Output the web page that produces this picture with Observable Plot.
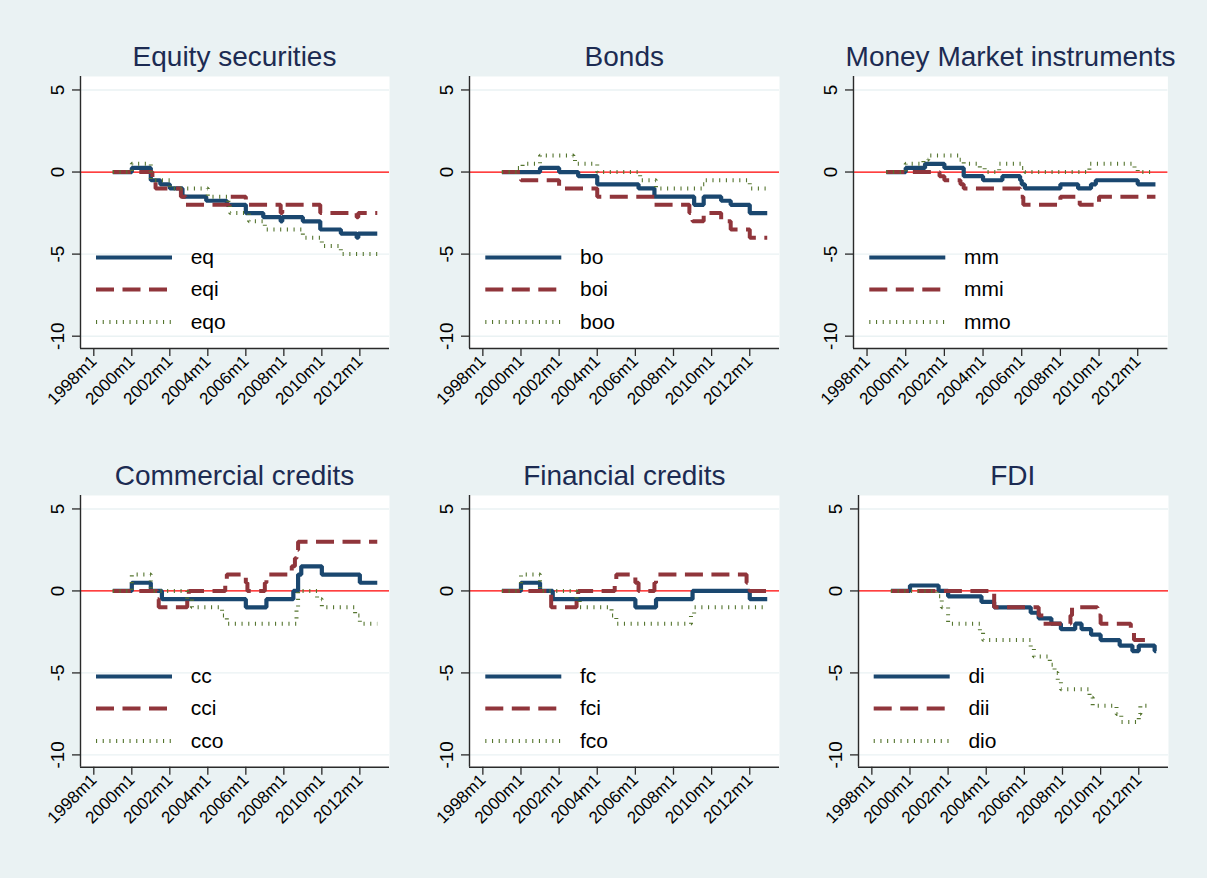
<!DOCTYPE html>
<html>
<head>
<meta charset="utf-8">
<script src="https://cdn.jsdelivr.net/npm/d3@7"></script>
<script src="https://cdn.jsdelivr.net/npm/@observablehq/plot@0.6"></script>
<style>
  html, body { margin: 0; padding: 0; background: #eaf2f3; }
  #chart { position: relative; width: 1207px; height: 878px; background: #eaf2f3; overflow: hidden;
           font-family: "Liberation Sans", Arial, Helvetica, sans-serif; }
  .panel { position: absolute; }
  .title { position: absolute; font-size: 28px; line-height: 28px; color: #1c2b52; white-space: nowrap;
           transform: translateX(-50%); }
  #legend { position: absolute; left: 0; top: 0; pointer-events: none; }
</style>
</head>
<body>
<div id="chart"></div>
<script>
// ---------------- data ----------------
const X_TICKS = [1998, 2000, 2002, 2004, 2006, 2008, 2010, 2012];
const Y_TICKS = [5, 0, -5, -10];
const TITLES = ["Equity securities", "Bonds", "Money Market instruments",
                "Commercial credits", "Financial credits", "FDI"];
const SERIES_NAMES = [["eq", "eqi", "eqo"], ["bo", "boi", "boo"], ["mm", "mmi", "mmo"],
                      ["cc", "cci", "cco"], ["fc", "fci", "fco"], ["di", "dii", "dio"]];

// change points [month, value]; each series is a step function of monthly values
const eq  = [["1999m1",0],["2000m1",0.25],["2001m1",-0.5],["2001m7",-0.75],["2002m1",-1],["2002m9",-1.5],
             ["2003m12",-1.75],["2005m1",-2],["2006m1",-2.5],["2006m12",-2.75],["2007m11",-3],["2007m12",-2.75],
             ["2009m1",-3],["2009m12",-3.5],["2011m1",-3.75],["2011m11",-4],["2011m12",-3.75],["2012m12",-3.75]];
const eqi = [["1999m1",0],["2001m2",-0.5],["2001m4",-1],["2002m8",-1.5],["2002m11",-2],["2005m3",-1.5],
             ["2006m1",-2],["2007m11",-2.5],["2007m12",-2],["2009m12",-2.5],["2011m11",-2.75],["2011m12",-2.5],
             ["2012m12",-2.5]];
const eqo = [["1999m1",0],["2000m1",0.5],["2001m1",-0.5],["2002m1",-1],["2004m1",-1.5],["2005m2",-2],
             ["2005m3",-2.5],["2006m3",-3],["2007m1",-3.5],["2009m1",-4],["2010m1",-4.5],["2011m1",-5],
             ["2012m12",-5]];

const bo  = [["1999m1",0],["2001m1",0.25],["2002m1",0],["2003m1",-0.25],["2004m1",-0.75],["2006m3",-1],
             ["2007m1",-1.5],["2009m2",-2],["2009m8",-1.5],["2010m7",-1.75],["2011m1",-2],["2012m1",-2.5],
             ["2012m12",-2.5]];
const boi = [["1999m1",0],["2000m1",-0.5],["2002m1",-1],["2004m1",-1.5],["2007m1",-2],["2008m11",-2.5],
             ["2009m1",-3],["2009m8",-2.5],["2010m7",-3],["2011m1",-3.5],["2012m1",-4],["2012m12",-4]];
const boo = [["1999m1",0],["1999m11",0.25],["2000m2",0.5],["2001m1",1],["2002m10",0.75],["2002m11",0.5],
             ["2004m1",0],["2006m4",-0.5],["2007m2",-1],["2009m7",-0.75],["2009m9",-0.5],["2012m1",-1],
             ["2012m12",-1]];

const mm  = [["1999m1",0],["2000m1",0.25],["2001m1",0.5],["2002m1",0.25],["2003m1",-0.25],["2004m1",-0.5],
             ["2005m1",-0.25],["2005m12",-0.5],["2006m1",-0.75],["2006m3",-1],["2008m1",-0.75],["2008m12",-1],
             ["2009m8",-0.75],["2009m11",-0.5],["2012m1",-0.75],["2012m12",-0.75]];
const mmi = [["1999m1",0],["2001m10",-0.25],["2002m1",-0.5],["2002m11",-0.75],["2003m1",-1],["2005m12",-1.5],
             ["2006m2",-2],["2008m1",-1.5],["2009m1",-2],["2010m1",-1.5],["2012m12",-1.5]];
const mmo = [["1999m1",0],["2000m1",0.5],["2000m12",0.75],["2001m3",1],["2002m10",0.75],["2003m1",0.5],
             ["2003m11",0.25],["2004m2",0],["2004m11",0.5],["2006m1",0.25],["2006m3",0],["2009m7",0.5],
             ["2011m11",0.25],["2012m1",0],["2012m12",0]];

const cc  = [["1999m1",0],["2000m1",0.5],["2001m1",0],["2001m8",-0.5],["2006m1",-1],["2007m2",-0.5],
             ["2008m7",0],["2008m10",1],["2008m12",1.5],["2010m1",1],["2012m1",0.5],["2012m12",0.5]];
const cci = [["1999m1",0],["2001m5",-0.5],["2001m6",-1],["2002m12",-0.5],["2003m1",0],["2004m12",0.5],
             ["2005m1",1],["2006m1",0.5],["2006m2",0],["2007m1",0.5],["2007m2",1],["2008m6",1.5],["2008m8",2],
             ["2008m9",2.5],["2008m10",3],["2012m12",3]];
const cco = [["1999m1",0],["2000m1",1],["2001m1",0],["2002m12",-0.5],["2003m3",-1],["2004m10",-1.5],
             ["2005m1",-2],["2008m9",-1],["2008m10",0],["2009m10",-0.5],["2010m1",-1],["2011m10",-1.5],
             ["2012m1",-2],["2012m12",-2]];

const fc  = [["1999m1",0],["2000m1",0.5],["2001m1",0],["2001m9",-0.5],["2006m1",-1],["2007m2",-0.5],
             ["2009m1",0],["2012m1",-0.5],["2012m12",-0.5]];
const fci = [["1999m1",0],["2001m8",-1],["2002m12",-0.5],["2003m1",0],["2004m12",0.5],["2005m1",1],
             ["2006m1",0.5],["2006m3",0],["2007m1",0.5],["2007m2",1],["2011m11",0.5],["2012m1",0],["2012m12",0]];
const fco = [["1999m1",0],["2000m1",1],["2001m1",0],["2002m12",-0.5],["2003m2",-1],["2004m10",-1.5],
             ["2005m1",-2],["2008m12",-1.5],["2009m2",-1],["2012m12",-1]];

const di  = [["1999m1",0],["2000m1",0.33],["2001m7",0],["2002m1",-0.33],["2003m10",-0.67],["2004m6",-1],
             ["2006m5",-1.33],["2006m10",-1.67],["2007m6",-2],["2007m12",-2.33],["2008m9",-2],["2009m1",-2.33],
             ["2009m7",-2.67],["2010m1",-3],["2011m1",-3.33],["2011m9",-3.67],["2012m1",-3.33],["2012m11",-3.67],
             ["2012m12",-3.67]];
const dii = [["1999m1",0],["2004m6",-1],["2006m10",-1.5],["2007m1",-2],["2008m6",-1.5],["2008m7",-1],
             ["2009m11",-1.5],["2010m1",-2],["2011m8",-2.33],["2011m9",-2.5],["2011m10",-3],["2012m8",-3]];
const dio = [["1999m1",0],["2001m6",-0.33],["2001m9",-1],["2002m1",-2],["2003m9",-2.5],["2003m11",-3],
             ["2006m5",-3.5],["2006m7",-4],["2007m5",-4.5],["2007m8",-5],["2007m10",-5.5],["2007m12",-6],
             ["2009m6",-6.5],["2009m8",-7],["2010m11",-7.5],["2011m2",-8],["2012m1",-7.5],["2012m2",-7],
             ["2012m8",-7]];

const PANEL_DATA = [[eq, eqi, eqo], [bo, boi, boo], [mm, mmi, mmo],
                    [cc, cci, cco], [fc, fci, fco], [di, dii, dio]];

// ---------------- layout & style ----------------
const X_DOMAIN = [1997.3, 2013.56];
const Y_DOMAIN = [-10.75, 5.82];
const LAYOUT = [
  {x0: 80,    x1: 389,    y0: 76,  y1: 348},
  {x0: 469.3, x1: 779.3,  y0: 76,  y1: 348},
  {x0: 853.3, x1: 1167.7, y0: 76,  y1: 348},
  {x0: 80,    x1: 389,    y0: 495, y1: 766.7},
  {x0: 469.3, x1: 779.3,  y0: 495, y1: 766.7},
  {x0: 857.7, x1: 1167.7, y0: 495, y1: 766.7}
];
const STYLES = [
  {stroke: "#1a476f", strokeWidth: 4.2, dash: null},
  {stroke: "#90353b", strokeWidth: 4.0, dash: "18,8.5"},
  {stroke: "#55752f", strokeWidth: 4.0, dash: "1.1,5.6"}
];
const FONT = '"Liberation Sans", Arial, Helvetica, sans-serif';
const AXIS_COLOR = "#2a2a2a";
const GRID_COLOR = "#eaf2f3";

const toT = s => { const [y, m] = s.split("m").map(Number); return y + (m - 1) / 12; };

const chart = document.getElementById("chart");
const ML = 75, MR = 14, MT = 12, MB = 85;

LAYOUT.forEach((L, i) => {
  const w = L.x1 - L.x0, h = L.y1 - L.y0;
  const lineMarks = PANEL_DATA[i].map((ser, k) => {
    const rows = ser.map(([m, v]) => ({t: toT(m), v}));
    const st = STYLES[k];
    return Plot.line(rows, {x: "t", y: "v", curve: "step-after", stroke: st.stroke,
      strokeWidth: st.strokeWidth, strokeDasharray: st.dash, strokeLinecap: "butt", strokeLinejoin: "miter"});
  });
  const svg = Plot.plot({
    width: w + ML + MR, height: h + MT + MB,
    marginLeft: ML, marginRight: MR, marginTop: MT, marginBottom: MB,
    x: {domain: X_DOMAIN, label: null},
    y: {domain: Y_DOMAIN, label: null},
    style: {background: "transparent", fontFamily: FONT, fontSize: "17px", color: "#000", overflow: "visible"},
    marks: [
      Plot.frame({fill: "white", stroke: "none"}),
      Plot.ruleY(Y_TICKS.filter(d => d !== 0), {stroke: GRID_COLOR, strokeWidth: 1.4}),
      Plot.ruleY([0], {stroke: "#ff0000", strokeWidth: 1.3}),
      ...lineMarks,
      Plot.axisX({ticks: X_TICKS, tickFormat: d => `${d}m1`, tickRotate: -45, tickSize: 8, label: null,
                  tickPadding: 2, fontSize: 17, stroke: AXIS_COLOR, fill: "#000", strokeWidth: 1.3}),
      Plot.axisY({ticks: Y_TICKS, tickFormat: d => String(d), tickRotate: -90, tickSize: 8, label: null,
                  tickPadding: 9, fontSize: 19, stroke: AXIS_COLOR, fill: "#000", strokeWidth: 1.3}),
      Plot.ruleX([X_DOMAIN[0]], {stroke: AXIS_COLOR, strokeWidth: 1.4}),
      Plot.ruleY([Y_DOMAIN[0]], {stroke: AXIS_COLOR, strokeWidth: 1.4})
    ]
  });
  const holder = document.createElement("div");
  holder.className = "panel";
  holder.style.left = (L.x0 - ML) + "px";
  holder.style.top = (L.y0 - MT) + "px";
  holder.appendChild(svg);
  chart.appendChild(holder);

  const t = document.createElement("div");
  t.className = "title";
  t.textContent = TITLES[i];
  t.style.left = ((L.x0 + L.x1) / 2) + "px";
  t.style.top = (L.y0 - 9.5 - 23.7) + "px";
  chart.appendChild(t);
});

// legends (overlay)
const leg = d3.select("#chart").append("svg").attr("id", "legend")
  .attr("width", 1207).attr("height", 878);
LAYOUT.forEach((L, i) => {
  const rowsY = [181.5, 213.5, 246];
  SERIES_NAMES[i].forEach((name, k) => {
    const st = STYLES[k];
    const y = L.y0 + rowsY[k];
    leg.append("line").attr("x1", L.x0 + 16).attr("x2", L.x0 + 92).attr("y1", y).attr("y2", y)
      .attr("stroke", st.stroke).attr("stroke-width", st.strokeWidth)
      .attr("stroke-dasharray", st.dash).attr("stroke-linecap", "butt");
    leg.append("text").attr("x", L.x0 + 110.7).attr("y", y + 6.5)
      .attr("font-family", FONT).attr("font-size", 21).attr("fill", "#000").text(name);
  });
});
</script>
</body>
</html>
